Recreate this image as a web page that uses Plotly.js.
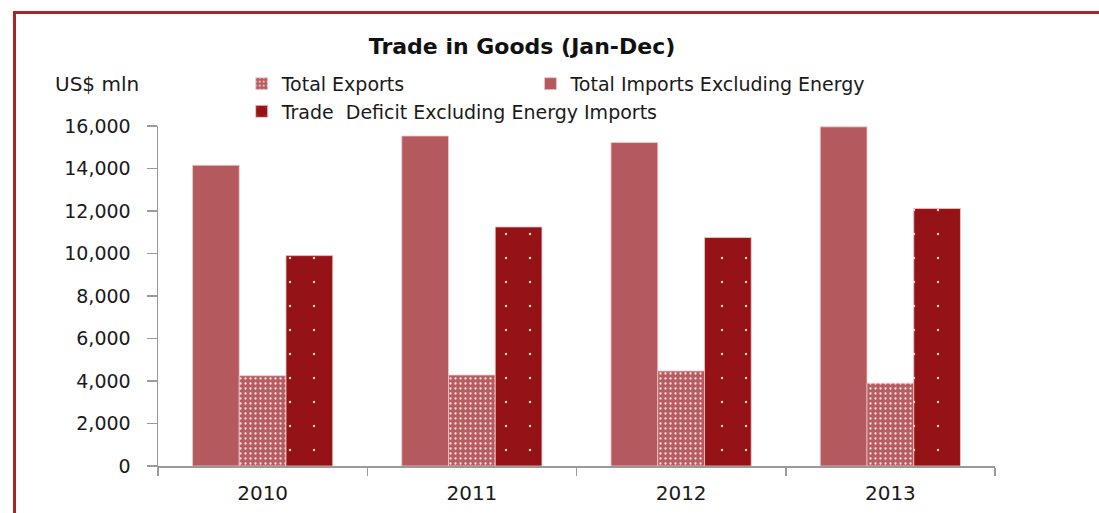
<!DOCTYPE html>
<html>
<head>
<meta charset="utf-8">
<script src="https://cdn.plot.ly/plotly-3.0.1.min.js"></script>
<style>
  html, body { margin: 0; padding: 0; background: #ffffff; }
  #wrap { position: relative; width: 1099px; height: 513px; overflow: hidden; }
  #chart { width: 1099px; height: 513px; }
  /* dark red frame along the top and left edges */
  #frame {
    position: absolute; left: 13px; top: 11px; width: 1200px; height: 600px;
    border-top: 3px solid #A2262B; border-left: 3px solid #A2262B;
    pointer-events: none;
  }
</style>
</head>
<body>
<div id="wrap">
  <div id="chart"></div>
  <div id="frame"></div>
</div>
<script>
// Trade in goods, January-December, US$ million
const years = ['2010', '2011', '2012', '2013'];
const totalImportsExEnergy = [14150, 15530, 15220, 15960];
const totalExports = [4250, 4280, 4470, 3900];
const tradeDeficitExEnergy = [9900, 11250, 10750, 12120];

const yTickValues = [0, 2000, 4000, 6000, 8000, 10000, 12000, 14000, 16000];

const importColor = '#B45A5E';
const exportColor = '#B75C60';
const deficitColor = '#951317';

const edge = { color: 'rgba(240,200,200,0.8)', width: 1 };

const traces = [
  {
    type: 'bar', name: 'Total Imports Excluding Energy',
    x: years, y: totalImportsExEnergy, legend: 'legend2',
    marker: { color: importColor, line: edge }
  },
  {
    type: 'bar', name: 'Total Exports',
    x: years, y: totalExports, legend: 'legend', legendrank: 1,
    marker: {
      color: exportColor, line: edge,
      pattern: { shape: '.', size: 5, solidity: 0.16, fgcolor: '#ffffff', bgcolor: exportColor, fgopacity: 0.85 }
    }
  },
  {
    type: 'bar', name: 'Trade  Deficit Excluding Energy Imports',
    x: years, y: tradeDeficitExEnergy, legend: 'legend', legendrank: 2,
    marker: {
      color: deficitColor, line: edge,
      pattern: { shape: '.', size: 24, solidity: 0.008, fgcolor: '#f4d0d0', bgcolor: deficitColor, fgopacity: 1 }
    }
  }
];

const textColor = '#1a1a1a';
const legendFont = { family: 'DejaVu Sans, sans-serif', size: 19, color: textColor };

const layout = {
  width: 1099, height: 513,
  margin: { l: 158, r: 104, t: 126, b: 47, pad: 0 },
  paper_bgcolor: '#ffffff', plot_bgcolor: '#ffffff',
  barmode: 'group', bargap: 0.33, bargroupgap: 0,
  showlegend: true,
  title: {
    text: '<b>Trade in Goods (Jan-Dec)</b>',
    x: 0.475, xanchor: 'center', y: 0.909, yanchor: 'middle',
    font: { family: 'DejaVu Sans, sans-serif', size: 22, color: '#111111' }
  },
  legend: {
    orientation: 'v', x: 0.1, xanchor: 'left', y: 1.18, yanchor: 'top',
    itemwidth: 30, traceorder: 'normal', tracegroupgap: 0,
    font: legendFont, bgcolor: 'rgba(0,0,0,0)'
  },
  legend2: {
    orientation: 'v', x: 0.445, xanchor: 'left', y: 1.18, yanchor: 'top',
    itemwidth: 30, tracegroupgap: 0,
    font: legendFont, bgcolor: 'rgba(0,0,0,0)'
  },
  xaxis: {
    type: 'category',
    showline: true, linecolor: '#9a9a9a', linewidth: 1.5,
    ticks: 'outside', tickson: 'boundaries', ticklen: 8, tickcolor: '#9a9a9a', tickwidth: 1.5,
    showgrid: false, zeroline: false,
    tickfont: { family: 'DejaVu Sans, sans-serif', size: 20, color: textColor },
    ticklabelstandoff: 8
  },
  yaxis: {
    range: [0, 16000],
    tickvals: yTickValues,
    tickformat: ',d',
    showline: true, linecolor: '#9a9a9a', linewidth: 1.5,
    ticks: 'outside', ticklen: 10, tickcolor: '#9a9a9a', tickwidth: 1.5,
    showgrid: false, zeroline: false,
    tickfont: { family: 'DejaVu Sans, sans-serif', size: 19, color: textColor },
    ticklabelstandoff: 12
  },
  annotations: [
    {
      text: 'US$ mln', xref: 'paper', yref: 'paper',
      x: -0.125, y: 1.125, xanchor: 'left', yanchor: 'middle', showarrow: false,
      font: { family: 'DejaVu Sans, sans-serif', size: 20, color: textColor }
    }
  ]
};

Plotly.newPlot('chart', traces, layout, { displayModeBar: false, staticPlot: true });
</script>
</body>
</html>
